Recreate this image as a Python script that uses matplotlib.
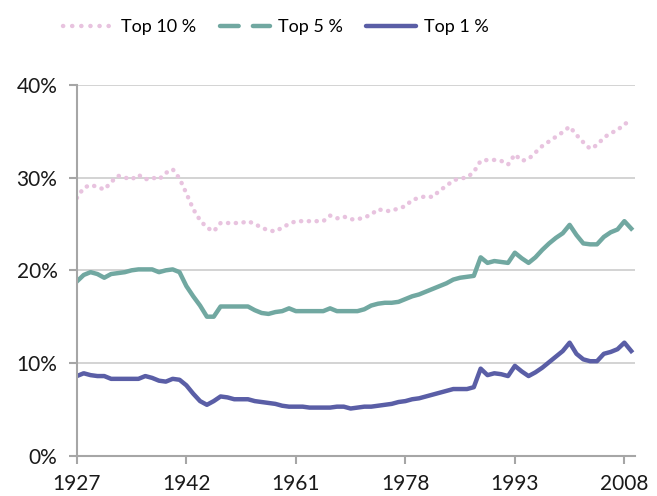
import matplotlib
matplotlib.use("Agg")
import matplotlib.pyplot as plt
from matplotlib.lines import Line2D
from matplotlib.ticker import FuncFormatter

tick_labels = ["1927", "1942", "1961", "1978", "1993", "2008"]

top10 = [27.8, 28.9, 29.2, 29.0, 28.7, 29.5, 30.2, 30.0, 29.8, 30.3,
         29.8, 30.0, 29.8, 30.5, 30.9, 29.9, 28.3, 26.6, 25.4, 24.6,
         24.2, 25.1, 25.1, 25.1, 25.1, 25.3, 25.0, 24.6, 24.3, 24.2,
         24.6, 25.0, 25.3, 25.3, 25.3, 25.3, 25.3, 25.9, 25.6, 25.8,
         25.5, 25.5, 25.7, 26.0, 26.6, 26.4, 26.4, 26.7, 26.9, 27.6,
         27.8, 28.0, 27.9, 28.6, 29.1, 29.7, 29.9, 30.0, 30.6, 31.8,
         31.9, 31.9, 31.8, 31.4, 32.5, 31.8, 32.0, 32.7, 33.4, 33.9,
         34.4, 34.9, 35.5, 34.6, 33.8, 33.1, 33.5, 34.3, 34.8, 35.1,
         35.8, 36.0]

top5 = [18.8, 19.5, 19.8, 19.6, 19.2, 19.6, 19.7, 19.8, 20.0, 20.1,
        20.1, 20.1, 19.8, 20.0, 20.1, 19.8, 18.3, 17.2, 16.2, 15.0,
        15.0, 16.1, 16.1, 16.1, 16.1, 16.1, 15.7, 15.4, 15.3, 15.5,
        15.6, 15.9, 15.6, 15.6, 15.6, 15.6, 15.6, 15.9, 15.6, 15.6,
        15.6, 15.6, 15.8, 16.2, 16.4, 16.5, 16.5, 16.6, 16.9, 17.2,
        17.4, 17.7, 18.0, 18.3, 18.6, 19.0, 19.2, 19.3, 19.4, 21.4,
        20.8, 21.0, 20.9, 20.8, 21.9, 21.3, 20.8, 21.4, 22.2, 22.9,
        23.5, 24.0, 24.9, 23.8, 22.9, 22.8, 22.8, 23.6, 24.1, 24.4,
        25.3, 24.5]

top1 = [8.6, 8.9, 8.7, 8.6, 8.6, 8.3, 8.3, 8.3, 8.3, 8.3,
        8.6, 8.4, 8.1, 8.0, 8.3, 8.2, 7.6, 6.7, 5.9, 5.5,
        5.9, 6.4, 6.3, 6.1, 6.1, 6.1, 5.9, 5.8, 5.7, 5.6,
        5.4, 5.3, 5.3, 5.3, 5.2, 5.2, 5.2, 5.2, 5.3, 5.3,
        5.1, 5.2, 5.3, 5.3, 5.4, 5.5, 5.6, 5.8, 5.9, 6.1,
        6.2, 6.4, 6.6, 6.8, 7.0, 7.2, 7.2, 7.2, 7.4, 9.4,
        8.7, 8.9, 8.8, 8.6, 9.7, 9.1, 8.6, 9.0, 9.5, 10.1,
        10.7, 11.3, 12.2, 11.0, 10.4, 10.2, 10.2, 11.0, 11.2, 11.5,
        12.2, 11.3]

c10 = "#E8C3DF"
c5 = "#71A8A1"
c1 = "#5A5EA6"
grey = "#A6A6A6"

plt.rcParams["font.family"] = ["Lato", "DejaVu Sans"]

fig = plt.figure(figsize=(6.57, 4.96), dpi=100)
ax = fig.add_axes([0.117, 0.081, 0.850, 0.748])

x = list(range(len(top1)))
ax.plot(x, top10, color=c10, lw=3.2, linestyle=(0, (0.05, 1.7)),
        dash_capstyle="round")
ax.plot(x, top5, color=c5, lw=3.2, solid_joinstyle="round")
ax.plot(x, top1, color=c1, lw=3.2, solid_joinstyle="round")

ax.set_ylim(0, 40)
ax.set_xlim(0, 81.6)
ax.set_yticks([0, 10, 20, 30, 40])
ax.yaxis.set_major_formatter(FuncFormatter(lambda v, p: f"{v:.0f}%"))
ax.set_xticks([0, 16, 32, 48, 64, 80])
ax.set_xticklabels(tick_labels)
ax.grid(axis="y", color="#D0D0D0", lw=1.3)
ax.set_axisbelow(True)

for s in ["top", "right"]:
    ax.spines[s].set_visible(False)
for s in ["left", "bottom"]:
    ax.spines[s].set_color(grey)
    ax.spines[s].set_linewidth(1.5)
ax.tick_params(colors=grey, width=1.5, length=6, labelsize=15,
               labelcolor="#1a1a1a")
ax.tick_params(axis="y", pad=8)
ax.tick_params(axis="x", pad=7)

handles = [
    Line2D([], [], color=c10, lw=3.2, linestyle=(0, (0.05, 2.0)),
           dash_capstyle="round"),
    Line2D([], [], color=c5, lw=3.2, linestyle=(0, (4.2, 3.2)),
           dash_capstyle="round"),
    Line2D([], [], color=c1, lw=3.2, solid_capstyle="round"),
]
fig.legend(handles, ["Top 10 %", "Top 5 %", "Top 1 %"], loc="center",
           bbox_to_anchor=(0.42, 0.945), ncol=3, frameon=False,
           fontsize=13, handlelength=2.8, handletextpad=0.4,
           columnspacing=1.3)

fig.savefig("out.png", dpi=100)
